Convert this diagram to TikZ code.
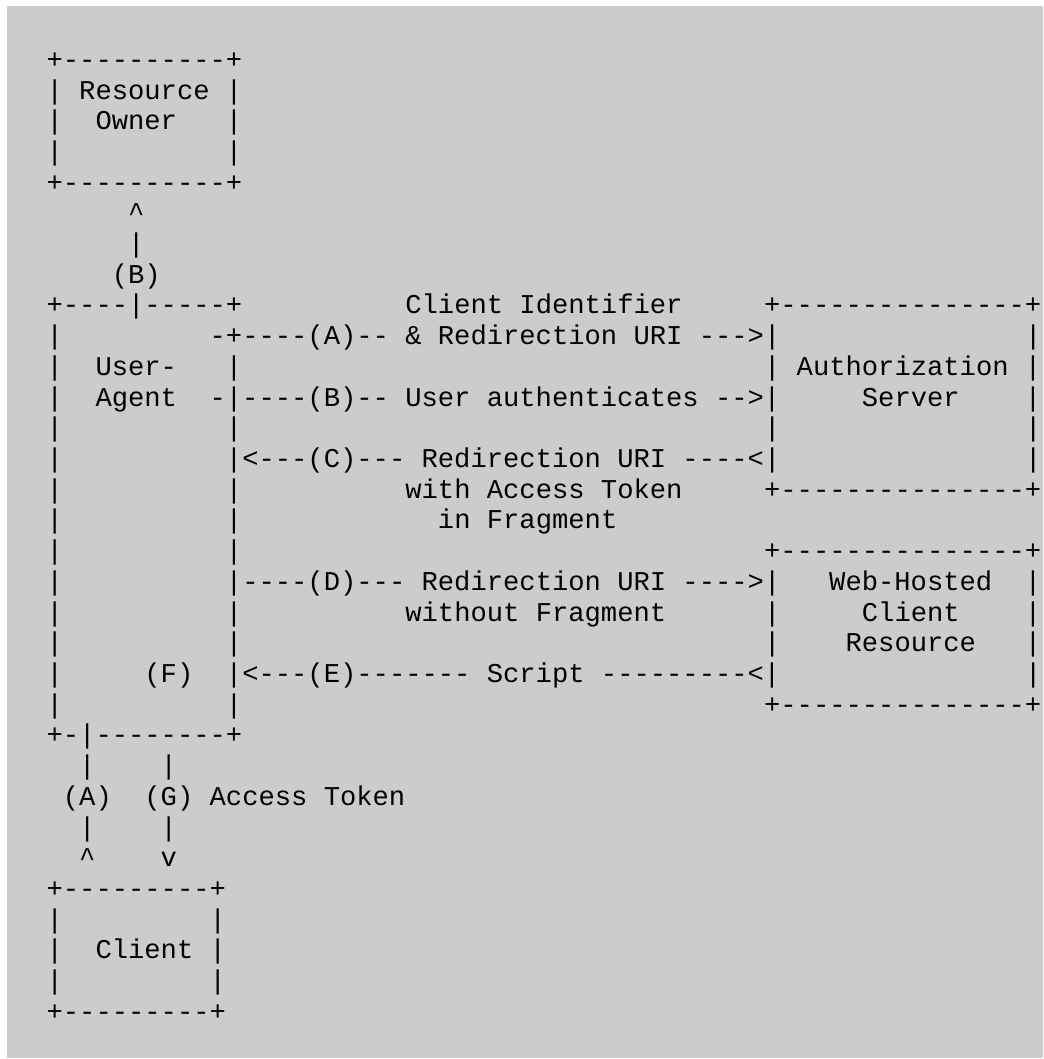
\documentclass[tikz,border=0pt]{standalone}
\usepackage{fontspec}
\setmonofont{Liberation Mono}
\definecolor{bggray}{HTML}{CCCCCC}
\tikzset{
  ln/.style={anchor=base west, inner sep=0pt, outer sep=0pt,
    font=\ttfamily\fontsize{20.38pt}{23pt}\selectfont\frenchspacing, text=black}
}
\newcommand{\rowy}[1]{68.3+#1*30.71}
\newcommand{\lastch}[1]{\makebox[0.5em][l]{#1}}
\begin{document}
\begin{tikzpicture}[x=0.75pt,y=-0.75pt]
\useasboundingbox (0,0) rectangle (1043,1059);
\fill[bggray] (7,6) rectangle (1043,1058);
\begin{scope}
\node[ln] (r0) at (46.6,{\rowy{0}}) {+----------+};
\node[ln] (r1) at (46.6,{\rowy{1}}) {|~Resource~|};
\node[ln] (r2) at (46.6,{\rowy{2}}) {|~~Owner~~~|};
\node[ln] (r3) at (46.6,{\rowy{3}}) {|~~~~~~~~~~|};
\node[ln] (r4) at (46.6,{\rowy{4}}) {+----------+};
\node[ln] (r5) at (46.6,{\rowy{5}}) {~~~~~\textasciicircum};
\node[ln] (r6) at (46.6,{\rowy{6}}) {~~~~~|};
\node[ln] (r7) at (46.6,{\rowy{7}}) {~~~~(B)};
\node[ln] (r8) at (46.6,{\rowy{8}}) {+----|-----+~~~~~~~~~~Client~Identifier~~~~~+---------------\lastch{+}};
\node[ln] (r9) at (46.6,{\rowy{9}}) {|~~~~~~~~~-+----(A)--~\&~Redirection~URI~--->|~~~~~~~~~~~~~~~\lastch{|}};
\node[ln] (r10) at (46.6,{\rowy{10}}) {|~~User-~~~|~~~~~~~~~~~~~~~~~~~~~~~~~~~~~~~~|~Authorization~\lastch{|}};
\node[ln] (r11) at (46.6,{\rowy{11}}) {|~~Agent~~-|----(B)--~User~authenticates~-->|~~~~~Server~~~~\lastch{|}};
\node[ln] (r12) at (46.6,{\rowy{12}}) {|~~~~~~~~~~|~~~~~~~~~~~~~~~~~~~~~~~~~~~~~~~~|~~~~~~~~~~~~~~~\lastch{|}};
\node[ln] (r13) at (46.6,{\rowy{13}}) {|~~~~~~~~~~|<---(C)---~Redirection~URI~----<|~~~~~~~~~~~~~~~\lastch{|}};
\node[ln] (r14) at (46.6,{\rowy{14}}) {|~~~~~~~~~~|~~~~~~~~~~with~Access~Token~~~~~+---------------\lastch{+}};
\node[ln] (r15) at (46.6,{\rowy{15}}) {|~~~~~~~~~~|~~~~~~~~~~~~in~Fragment};
\node[ln] (r16) at (46.6,{\rowy{16}}) {|~~~~~~~~~~|~~~~~~~~~~~~~~~~~~~~~~~~~~~~~~~~+---------------\lastch{+}};
\node[ln] (r17) at (46.6,{\rowy{17}}) {|~~~~~~~~~~|----(D)---~Redirection~URI~---->|~~~Web-Hosted~~\lastch{|}};
\node[ln] (r18) at (46.6,{\rowy{18}}) {|~~~~~~~~~~|~~~~~~~~~~without~Fragment~~~~~~|~~~~~Client~~~~\lastch{|}};
\node[ln] (r19) at (46.6,{\rowy{19}}) {|~~~~~~~~~~|~~~~~~~~~~~~~~~~~~~~~~~~~~~~~~~~|~~~~Resource~~~\lastch{|}};
\node[ln] (r20) at (46.6,{\rowy{20}}) {|~~~~~(F)~~|<---(E)-------~Script~---------<|~~~~~~~~~~~~~~~\lastch{|}};
\node[ln] (r21) at (46.6,{\rowy{21}}) {|~~~~~~~~~~|~~~~~~~~~~~~~~~~~~~~~~~~~~~~~~~~+---------------\lastch{+}};
\node[ln] (r22) at (46.6,{\rowy{22}}) {+-|--------+};
\node[ln] (r23) at (46.6,{\rowy{23}}) {~~|~~~~|};
\node[ln] (r24) at (46.6,{\rowy{24}}) {~(A)~~(G)~Access~Token};
\node[ln] (r25) at (46.6,{\rowy{25}}) {~~|~~~~|};
\node[ln] (r26) at (46.6,{\rowy{26}}) {~~\textasciicircum~~~~v};
\node[ln] (r27) at (46.6,{\rowy{27}}) {+---------+};
\node[ln] (r28) at (46.6,{\rowy{28}}) {|~~~~~~~~~|};
\node[ln] (r29) at (46.6,{\rowy{29}}) {|~~Client~|};
\node[ln] (r30) at (46.6,{\rowy{30}}) {|~~~~~~~~~|};
\node[ln] (r31) at (46.6,{\rowy{31}}) {+---------+};
\end{scope}
\end{tikzpicture}
\end{document}
